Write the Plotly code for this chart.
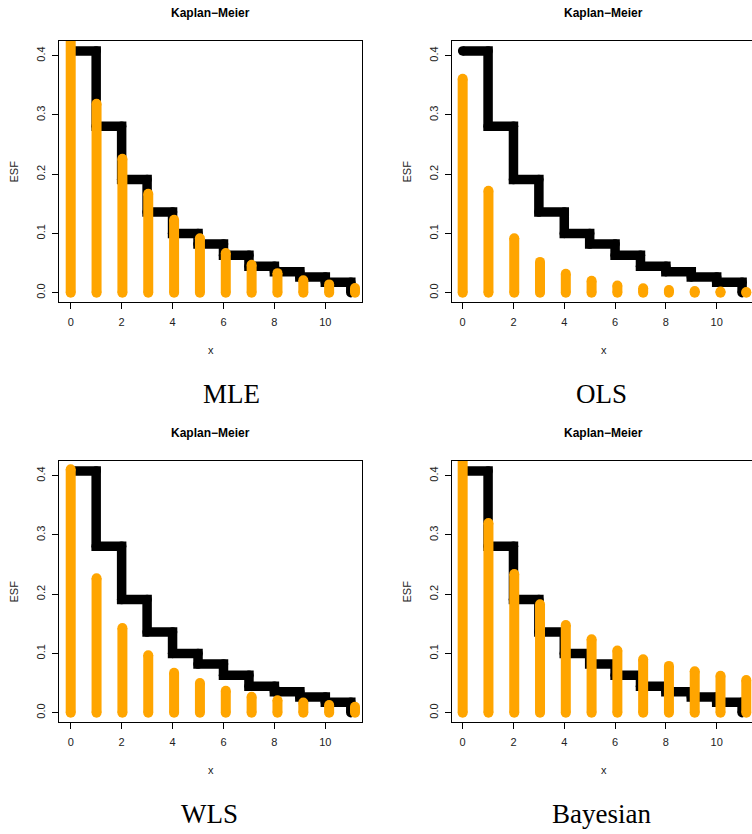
import plotly.graph_objects as go

# ---------------- data ----------------
KM_X = [0, 1, 2, 3, 4, 5, 6, 7, 8, 9, 10, 11]
KM_Y = [0.408, 0.281, 0.191, 0.136, 0.100, 0.082, 0.063, 0.0445, 0.0355, 0.0265, 0.0175, 0.0]

FIT_X = [0, 1.015, 2.03, 3.045, 4.06, 5.075, 6.09, 7.105, 8.12, 9.135, 10.15, 11.165]
MLE = [0.45, 0.319, 0.226, 0.167, 0.123, 0.092, 0.067, 0.047, 0.033, 0.021, 0.014, 0.008]
OLS = [0.361, 0.172, 0.092, 0.052, 0.032, 0.020, 0.012, 0.0074, 0.0046, 0.003, 0.002, 0.001]
WLS = [0.411, 0.227, 0.143, 0.097, 0.0675, 0.050, 0.037, 0.027, 0.021, 0.017, 0.013, 0.010]
BAYES = [0.45, 0.320, 0.234, 0.183, 0.148, 0.124, 0.105, 0.090, 0.079, 0.070, 0.0625, 0.055]

X_TICKS = [0, 2, 4, 6, 8, 10]
Y_TICKS = [0.0, 0.1, 0.2, 0.3, 0.4]
Y_TICKTEXT = ["0.0", "0.1", "0.2", "0.3", "0.4"]

PANEL_TITLE = "Kaplan\u2212Meier"
CAPTIONS = ["MLE", "OLS", "WLS", "Bayesian"]
SERIES = [MLE, OLS, WLS, BAYES]

W, H = 752, 834
ORANGE = "#FFA500"
BLACK_W = 9.5
ORANGE_W = 10


def px_x(p):
    return p / W


def px_y(p):
    return 1 - p / H


# panel geometry in window pixels: (left, right, top, bottom, xrange)
PANELS = [
    (59, 362, 41, 302, [-0.46, 11.44]),
    (452, 752, 41, 302, [-0.42, 11.39]),
    (59, 362, 461, 722, [-0.46, 11.44]),
    (452, 752, 461, 722, [-0.42, 11.39]),
]
CAPTION_POS = [(231.5, 394), (601, 394), (210, 814), (601, 814)]
Y_RANGE = [-0.0157, 0.4248]

fig = go.Figure()
annotations = []
axis_font = dict(family="Liberation Sans, Arial, sans-serif", size=11, color="#222")

for i, (vals, (l, r, t, b, xr)) in enumerate(zip(SERIES, PANELS)):
    n = i + 1
    xa = "x" if n == 1 else f"x{n}"
    ya = "y" if n == 1 else f"y{n}"

    # Kaplan-Meier step line
    fig.add_trace(go.Scatter(
        x=KM_X, y=KM_Y, mode="lines", line=dict(color="black", width=BLACK_W, shape="hv"),
        xaxis=xa, yaxis=ya, showlegend=False, hoverinfo="skip"))
    # rounded corners / caps
    cx = KM_X + KM_X[1:]
    cy = KM_Y + KM_Y[:-1]
    fig.add_trace(go.Scatter(
        x=cx, y=cy, mode="markers", marker=dict(color="black", size=BLACK_W, line=dict(width=0)),
        xaxis=xa, yaxis=ya, showlegend=False, hoverinfo="skip"))

    # fitted values as thick vertical segments
    sx, sy = [], []
    for xv, v in zip(FIT_X, vals):
        sx += [xv, xv, None]
        sy += [0, v, None]
    fig.add_trace(go.Scatter(
        x=sx, y=sy, mode="lines", line=dict(color=ORANGE, width=ORANGE_W),
        xaxis=xa, yaxis=ya, showlegend=False, hoverinfo="skip"))
    fig.add_trace(go.Scatter(
        x=FIT_X + FIT_X, y=[0] * len(vals) + vals, mode="markers",
        marker=dict(color=ORANGE, size=ORANGE_W, line=dict(width=0)),
        xaxis=xa, yaxis=ya, showlegend=False, hoverinfo="skip"))

    right_side = (n in (2, 4))
    fig.layout[("xaxis" if n == 1 else f"xaxis{n}")] = dict(
        domain=[max(0, px_x(l)), min(1, px_x(r))], range=xr, anchor=ya,
        showline=True, linecolor="black", linewidth=1, mirror=True,
        tickmode="array", tickvals=X_TICKS, ticks="outside", ticklen=6,
        tickcolor="black", tickwidth=1, showgrid=False, zeroline=False,
        tickfont=axis_font, ticklabelstandoff=4, fixedrange=True)
    fig.layout[("yaxis" if n == 1 else f"yaxis{n}")] = dict(
        domain=[px_y(b), px_y(t)], range=Y_RANGE, anchor=xa,
        showline=True, linecolor="black", linewidth=1, mirror=(not right_side),
        tickmode="array", tickvals=Y_TICKS, ticktext=Y_TICKTEXT, ticks="outside",
        ticklen=6, tickcolor="black", tickwidth=1, tickangle=-90,
        showgrid=False, zeroline=False, tickfont=axis_font, ticklabelstandoff=3,
        fixedrange=True)

    cx_pan = (l + (r if not right_side else 755)) / 2
    # panel title
    annotations.append(dict(
        text="<b>" + PANEL_TITLE + "</b>", x=px_x(cx_pan), y=px_y(t - 28),
        xref="paper", yref="paper", xanchor="center", yanchor="middle", showarrow=False,
        font=dict(family="Liberation Sans, Arial, sans-serif", size=12, color="black")))
    # x label
    annotations.append(dict(
        text="x", x=px_x(cx_pan), y=px_y(b + 48),
        xref="paper", yref="paper", xanchor="center", yanchor="middle", showarrow=False,
        font=axis_font))
    # y label
    annotations.append(dict(
        text="ESF", x=px_x(l - 46), y=px_y((t + b) / 2), textangle=-90,
        xref="paper", yref="paper", xanchor="center", yanchor="middle", showarrow=False,
        font=axis_font))
    # caption
    cxp, cyp = CAPTION_POS[i]
    annotations.append(dict(
        text=CAPTIONS[i], x=px_x(cxp), y=px_y(cyp), xref="paper", yref="paper",
        xanchor="center", yanchor="middle", showarrow=False,
        font=dict(family="Liberation Serif, Times New Roman, serif", size=27, color="black")))

fig.update_layout(
    width=W, height=H, autosize=False,
    margin=dict(l=0, r=0, t=0, b=0),
    paper_bgcolor="white", plot_bgcolor="white",
    annotations=annotations,
)

fig.write_html(
    "out.html",
    config={"displayModeBar": False},
    post_script="document.body.style.margin='0';document.body.style.overflow='hidden';",
)
